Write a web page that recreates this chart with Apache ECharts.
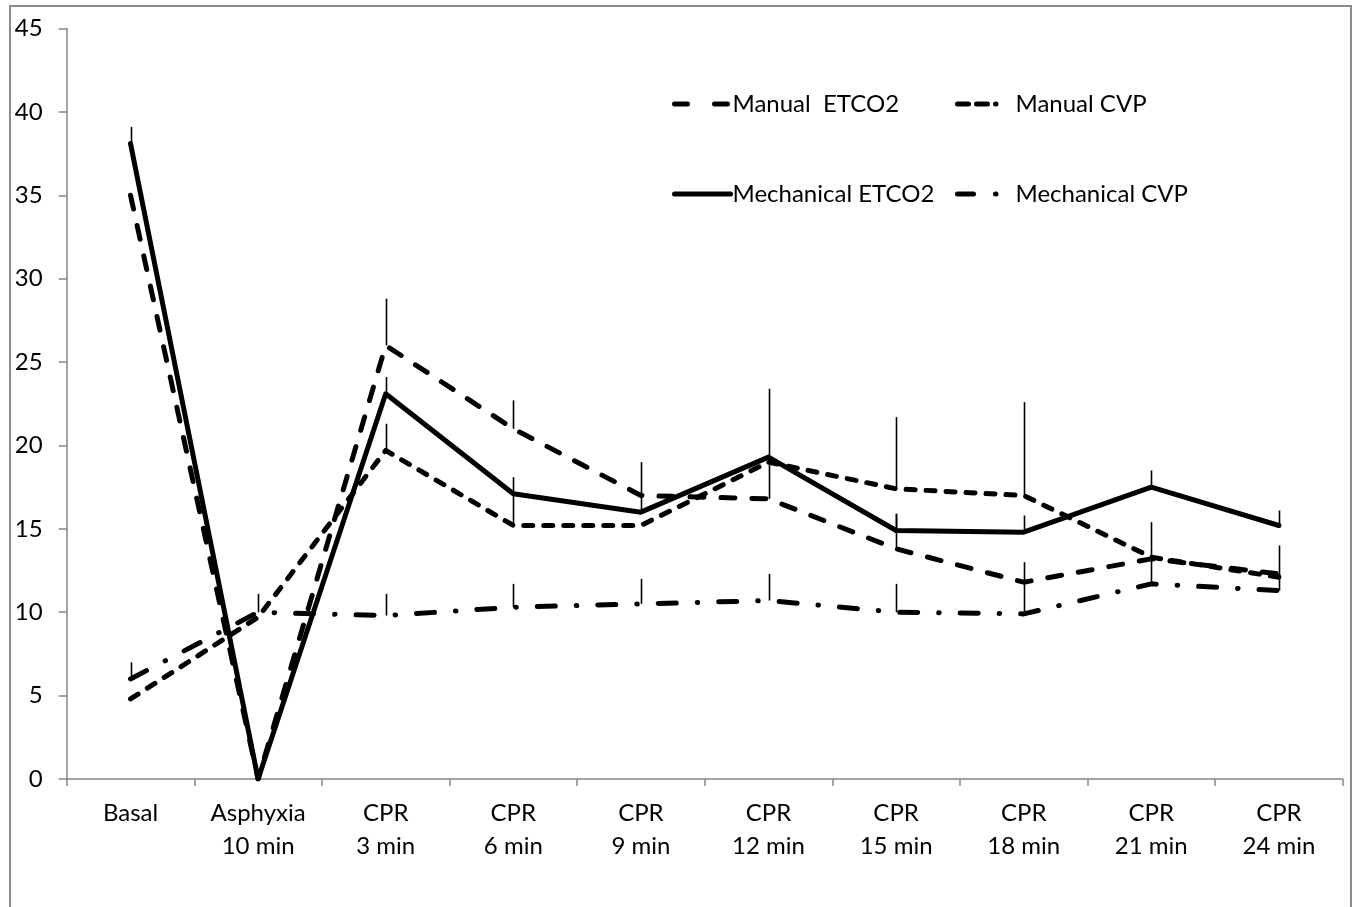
<!DOCTYPE html>
<html>
<head>
<meta charset="utf-8">
<script src="https://cdn.jsdelivr.net/npm/echarts@6/dist/echarts.min.js"></script>
<style>
html,body{margin:0;padding:0;background:#fff;}
#chart{width:1354px;height:907px;}
</style>
</head>
<body>
<div id="chart"></div>
<script>
var categories = ['Basal', 'Asphyxia\n10 min', 'CPR\n3 min', 'CPR\n6 min', 'CPR\n9 min', 'CPR\n12 min', 'CPR\n15 min', 'CPR\n18 min', 'CPR\n21 min', 'CPR\n24 min'];
var yTicks = [0, 45, 5];

var manualEtco2    = [35.0, 0, 26.0, 21.0, 17.0, 16.8, 13.8, 11.8, 13.2, 12.3];
var manualEtco2Err = [null, null, 28.8, 22.7, 19.0, 19.1, 15.9, 13.0, null, null];

var manualCvp      = [4.8, 9.7, 19.7, 15.2, 15.2, 19.0, 17.4, 17.0, 13.3, 12.1];
var manualCvpErr   = [null, null, 21.3, 17.2, null, null, 21.7, 22.6, 15.4, 14.0];

var mechEtco2      = [38.1, 0, 23.1, 17.1, 16.0, 19.3, 14.9, 14.8, 17.5, 15.2];
var mechEtco2Err   = [39.1, null, 24.1, 18.1, 17.0, 23.4, 15.9, 15.8, 18.5, 16.1];

var mechCvp        = [6.0, 10.0, 9.8, 10.3, 10.5, 10.7, 10.0, 9.9, 11.7, 11.3];
var mechCvpErr     = [7.0, 11.1, 11.1, 11.7, 12.0, 12.3, 11.7, 11.8, 13.2, 12.3];

var FONT = 'Lato';
var FS = 24;

function errData(vals, errs) {
  var out = [];
  for (var i = 0; i < vals.length; i++) {
    if (errs[i] != null) out.push([i, vals[i], errs[i]]);
  }
  return out;
}
function errSeries(name, vals, errs) {
  return {
    type: 'custom',
    name: name + ' err',
    z: 1,
    silent: true,
    data: errData(vals, errs),
    renderItem: function (params, api) {
      var p1 = api.coord([api.value(0), api.value(1)]);
      var p2 = api.coord([api.value(0), api.value(2)]);
      return {
        type: 'line',
        shape: { x1: Math.round(p1[0]) + 0.5, y1: p1[1], x2: Math.round(p2[0]) + 0.5, y2: p2[1] },
        style: { stroke: '#000', lineWidth: 1.6 }
      };
    }
  };
}
function lineSeries(name, data, type, width) {
  return {
    type: 'line',
    name: name,
    data: data,
    z: 3,
    symbol: 'none',
    showSymbol: false,
    animation: false,
    lineStyle: { color: '#000', width: width, type: type, cap: 'round', join: 'round' },
    itemStyle: { color: '#000' }
  };
}
function legendAt(name, left, top, dash) {
  return {
    data: [name],
    left: left,
    top: top,
    itemWidth: 56,
    itemHeight: 14,
    itemGap: 0,
    padding: 0,
    selectedMode: false,
    itemStyle: { opacity: 0 },
    lineStyle: { color: '#000', width: 5, type: dash, cap: 'round', opacity: 1 },
    textStyle: { fontFamily: FONT, fontSize: FS, color: '#000', padding: [0, 0, 0, -3] }
  };
}

var chart = echarts.init(document.getElementById('chart'), null, { renderer: 'canvas' });
chart.setOption({
  animation: false,
  backgroundColor: '#fff',
  graphic: [{
    type: 'rect',
    shape: { x: 10, y: 6, width: 1341, height: 960 },
    style: { fill: 'none', stroke: '#8c8c8c', lineWidth: 2 },
    silent: true
  }],
  legend: [
    legendAt('Manual  ETCO2', 672, 92, [13, 27]),
    legendAt('Manual CVP', 955, 92, [11, 8, 11, 8, 0.5, 30]),
    legendAt('Mechanical ETCO2', 672, 182, 'solid'),
    legendAt('Mechanical CVP', 955, 182, [16, 22, 0.5, 30])
  ],
  grid: { left: 66.7, right: 11.3, top: 28.5, bottom: 128, containLabel: false },
  xAxis: {
    type: 'category',
    data: categories,
    boundaryGap: true,
    axisLine: { lineStyle: { color: '#868686', width: 1.5 } },
    axisTick: { show: true, length: 7, lineStyle: { color: '#868686', width: 1.5 } },
    axisLabel: { fontFamily: FONT, fontSize: FS, color: '#000', margin: 18, lineHeight: 33, interval: 0 },
    splitLine: { show: false }
  },
  yAxis: {
    type: 'value',
    min: yTicks[0],
    max: yTicks[1],
    interval: yTicks[2],
    axisLine: { show: true, lineStyle: { color: '#868686', width: 1.5 } },
    axisTick: { show: true, length: 8, lineStyle: { color: '#868686', width: 1.5 } },
    axisLabel: { fontFamily: FONT, fontSize: FS, color: '#000', margin: 24 },
    splitLine: { show: false }
  },
  series: [
    lineSeries('Manual  ETCO2', manualEtco2, [14, 17], 5),
    lineSeries('Manual CVP', manualCvp, [9, 11], 5),
    lineSeries('Mechanical ETCO2', mechEtco2, 'solid', 5),
    lineSeries('Mechanical CVP', mechCvp, [18, 21, 0.5, 21], 5),
    errSeries('Manual  ETCO2', manualEtco2, manualEtco2Err),
    errSeries('Manual CVP', manualCvp, manualCvpErr),
    errSeries('Mechanical ETCO2', mechEtco2, mechEtco2Err),
    errSeries('Mechanical CVP', mechCvp, mechCvpErr)
  ]
});
</script>
</body>
</html>
